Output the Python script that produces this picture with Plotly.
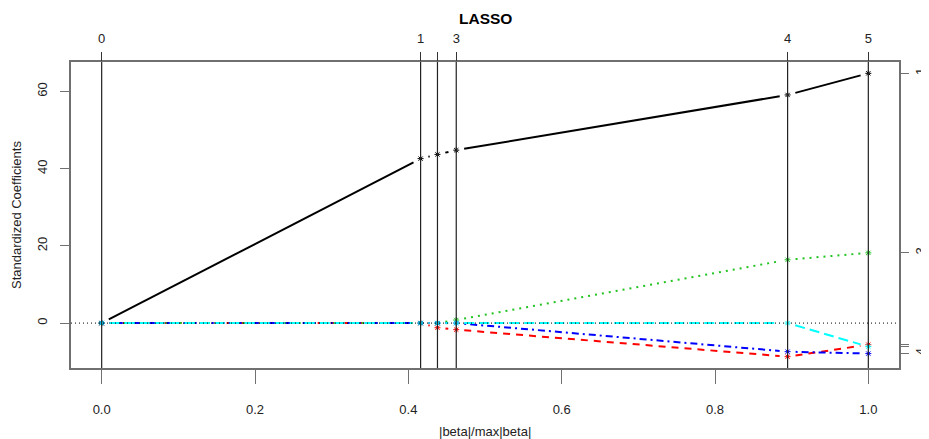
import plotly.graph_objects as go

# ---- data ----
s_breaks = [0.0, 0.416, 0.438, 0.4625, 0.8947, 1.0]       # |beta|/max|beta| at each LARS step
step_labels = ["0", "1", "", "3", "4", "5"]               # top axis (label "2" hidden by overlap)
coef_v1 = [0.0, 42.6, 43.7, 44.8, 59.1, 64.7]
coef_v2 = [0.0, 0.0, -1.2, -1.7, -8.7, -5.6]
coef_v3 = [0.0, 0.0, 0.0, 0.8, 16.4, 18.2]
coef_v4 = [0.0, 0.0, 0.0, 0.0, -7.4, -7.9]
coef_v5 = [0.0, 0.0, 0.0, 0.0, 0.0, -6.1]
var_names = ["1", "2", "3", "4", "5"]
right_labels = ["1", "", "3", "4", ""]                    # labels 2 and 5 hidden by overlap
x_ticks = [0.0, 0.2, 0.4, 0.6, 0.8, 1.0]
y_ticks = [0, 20, 40, 60]

series = [
    (coef_v1, "#000000", "solid"),
    (coef_v2, "#FF0000", "7px,6px"),
    (coef_v3, "#22C322", "2px,5px"),
    (coef_v4, "#0000FF", "2px,4px,7px,4px"),
    (coef_v5, "#00FFFF", "10px,5px"),
]

# ---- geometry (page body has an 8px margin) ----
OFF = 8
W, H = 929 - OFF, 439 - OFF
ML, MT = 71 - OFF, 62 - OFF
MR = W - (899 - OFF)
MB = H - (368.3 - OFF)
all_vals = [v for c, _, _ in series for v in c]
ymin, ymax = min(all_vals), max(all_vals)
dy = ymax - ymin
yr = [ymin - 0.04 * dy, ymax + 0.04 * dy]
xr = [-0.04, 1.04]
kx = (W - ML - MR) / (xr[1] - xr[0])
ky = (H - MT - MB) / (yr[1] - yr[0])
GAP = 8.0  # px gap around points (R type="b")

def gapped(xs, ys):
    ox, oy = [], []
    for i in range(len(xs) - 1):
        px0, py0 = xs[i] * kx, ys[i] * ky
        px1, py1 = xs[i + 1] * kx, ys[i + 1] * ky
        L = ((px1 - px0) ** 2 + (py1 - py0) ** 2) ** 0.5
        if L <= 2 * GAP:
            continue
        ux, uy = (px1 - px0) / L, (py1 - py0) / L
        ox += [(px0 + GAP * ux) / kx, (px1 - GAP * ux) / kx, None]
        oy += [(py0 + GAP * uy) / ky, (py1 - GAP * uy) / ky, None]
    return ox, oy

fig = go.Figure()
FONT = "Liberation Sans, Arial, sans-serif"

for coefs, col, dash in series:
    lx, ly = gapped(s_breaks, coefs)
    fig.add_trace(go.Scatter(x=lx, y=ly, mode="lines",
                             line=dict(color=col, width=2, dash=dash),
                             hoverinfo="skip", showlegend=False))
    fig.add_trace(go.Scatter(x=s_breaks, y=coefs, mode="markers",
                             marker=dict(symbol="asterisk-open", size=5, color=col,
                                         line=dict(color=col, width=1)),
                             hoverinfo="skip", showlegend=False))

# zero line (lty=3)
fig.add_trace(go.Scatter(x=xr, y=[0, 0], mode="lines",
                         line=dict(color="#000000", width=1, dash="1px,3px"),
                         hoverinfo="skip", showlegend=False))

# vertical lines at the breaks
for sb in s_breaks:
    fig.add_shape(type="line", x0=sb, x1=sb, y0=0, y1=1, xref="x", yref="paper",
                  line=dict(color="#222222", width=1.2), layer="above")

# invisible traces for the secondary axes
fig.add_trace(go.Scatter(x=[None], y=[None], yaxis="y2", showlegend=False))
fig.add_trace(go.Scatter(x=[None], y=[None], xaxis="x2", showlegend=False))

tickfont = dict(family=FONT, size=13, color="#222222")
AX = "#707070"

fig.update_layout(
    width=W, height=H,
    margin=dict(l=ML, r=MR, t=MT, b=MB, autoexpand=False),
    paper_bgcolor="white", plot_bgcolor="white",
    showlegend=False,
    xaxis=dict(range=xr, tickvals=x_ticks, ticktext=[f"{v:.1f}" for v in x_ticks],
               ticks="outside", ticklen=14, tickcolor=AX, tickwidth=1.2,
               showline=True, linecolor=AX, linewidth=1.5, mirror=True,
               showgrid=False, zeroline=False, tickfont=tickfont,
               ticklabelstandoff=15, automargin=False),
    xaxis2=dict(range=xr, overlaying="x", side="top", tickvals=s_breaks,
                ticktext=step_labels, ticks="outside", ticklen=9, tickcolor="#333333",
                tickwidth=1.2, showline=False, showgrid=False, zeroline=False,
                tickfont=tickfont, ticklabelstandoff=4, automargin=False),
    yaxis=dict(range=yr, tickvals=y_ticks, tickangle=-90,
               ticks="outside", ticklen=9, tickcolor=AX, tickwidth=1.2,
               showline=True, linecolor=AX, linewidth=1.5, mirror=True,
               showgrid=False, zeroline=False, tickfont=tickfont,
               ticklabelstandoff=8, automargin=False),
    yaxis2=dict(range=yr, overlaying="y", side="right",
                tickvals=[c[-1] for c, _, _ in series], ticktext=right_labels,
                tickangle=-90, ticks="outside", ticklen=9, tickcolor=AX, tickwidth=1.2,
                showline=False, showgrid=False, zeroline=False, tickfont=tickfont,
                ticklabelstandoff=0, automargin=False),
    annotations=[
        dict(text="<b>LASSO</b>", x=0.5, y=1, xref="paper", yref="paper",
             xanchor="center", yanchor="middle", yshift=(62 - 18), showarrow=False,
             font=dict(family=FONT, size=15.5, color="#000000")),
        dict(text="|beta|/max|beta|", x=0.5, y=0, xref="paper", yref="paper",
             xanchor="center", yanchor="middle", yshift=-(432 - 368.3), showarrow=False,
             font=dict(family=FONT, size=13, color="#222222")),
        dict(text="Standardized Coefficients", x=0, y=0.5, xref="paper", yref="paper",
             xanchor="center", yanchor="middle", xshift=-(71 - 16), textangle=-90,
             showarrow=False, font=dict(family=FONT, size=13, color="#222222")),
    ],
)

fig.write_html("out.html")
